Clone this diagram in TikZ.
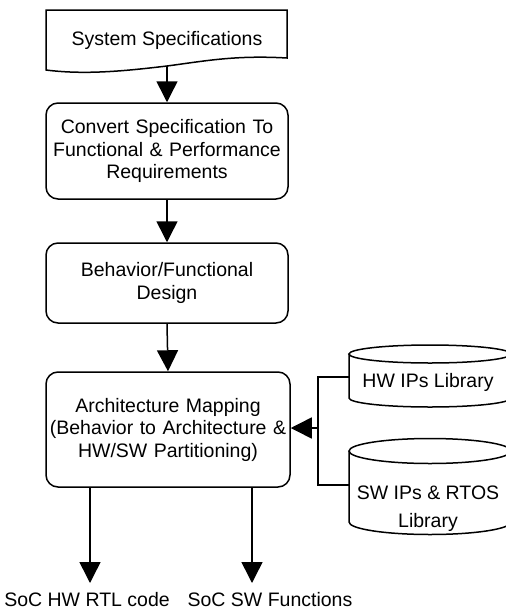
\documentclass[tikz,border=0pt]{standalone}
\usepackage{fontspec}
\setmainfont{Liberation Sans}
\usetikzlibrary{arrows.meta}
\begin{document}
\begin{tikzpicture}[x=1pt,y=-1pt,line width=1.5pt,
  txt/.style={font=\fontsize{19.5}{22.5}\selectfont, align=center, inner sep=0pt},
  stage/.style={txt, draw, rounded corners=12pt, minimum width=242pt, text width=238pt},
  flow/.style={-{Triangle[length=21pt,width=21pt]}}]
\useasboundingbox (0,0) rectangle (506,611);

% specification document with wavy lower edge
\draw (46,10) -- (287,10) -- (287,58)
  .. controls (235,55) and (205,61) .. (167,66)
  .. controls (125,71) and (85,75) .. (46,70) -- cycle;
\node[txt, minimum width=241pt, minimum height=52pt] (spec) at (167,40) {System Specifications};
\coordinate (specbot) at (167,66);

% design flow stages
\node[stage, minimum height=96pt] (convert) at (167,151)
  {Convert Specification To\\Functional \& Performance\\Requirements};
\node[stage, minimum height=80pt] (behav) at (167,283)
  {Behavior/Functional\\Design};
\node[stage, minimum width=244pt, minimum height=115pt] (map) at (168,429.5)
  {Architecture Mapping\\(Behavior to Architecture \&\\HW/SW Partitioning)};

\draw[flow] (specbot) -- (convert.north);
\draw[flow] (convert.south) -- (behav.north);
\draw[flow] (behav.south) -- (map.north);

% IP libraries
\draw (349,354) -- (349,398) arc[start angle=180,end angle=360,x radius=81pt,y radius=9pt] -- (511,354);
\draw (430,354) ellipse[x radius=81pt,y radius=9pt];
\node[txt] (hwlib) at (428,382) {HW IPs Library};

\draw (349,451) -- (349,522) arc[start angle=180,end angle=360,x radius=81pt,y radius=12.5pt] -- (511,451);
\draw (430,451) ellipse[x radius=81pt,y radius=12.5pt];
\node[txt, font=\fontsize{19.5}{28}\selectfont] (swlib) at (428,509) {SW IPs \& RTOS\\Library};

\coordinate (hwport) at (349,377);
\coordinate (swport) at (349,485);
\coordinate (jt) at (318,377);
\coordinate (jb) at (318,485);
\coordinate (jm) at (318,428);
\draw (hwport) -- (jt) -- (jb) -- (swport);
\draw[flow] (jm) -- (jm -| map.east);

% outputs
\coordinate (hwout) at (90,583);
\coordinate (swout) at (252,583);
\draw[flow] (hwout |- map.south) -- (hwout);
\draw[flow] (swout |- map.south) -- (swout);
\node[txt] (hwrtl) at (87,600) {SoC HW RTL code};
\node[txt] (swfn) at (270,600) {SoC SW Functions};
\end{tikzpicture}
\end{document}
